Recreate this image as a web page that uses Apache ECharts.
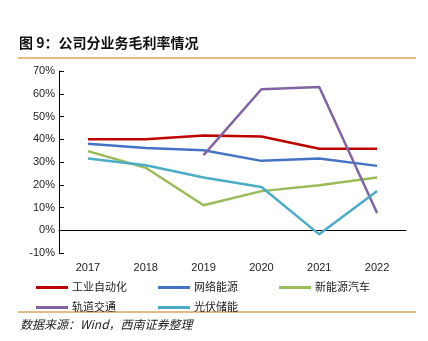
<!DOCTYPE html>
<html><head><meta charset="utf-8">
<script src="https://cdn.jsdelivr.net/npm/echarts@6/dist/echarts.min.js"></script>
<style>html,body{margin:0;padding:0;background:#fff}#c{width:428px;height:341px}</style>
</head><body><div id="c"></div>
<script>
const categories = ['2017','2018','2019','2020','2021','2022'];
const seriesNames = ['工业自动化','网络能源','新能源汽车','轨道交通','光伏储能'];
const industrialAutomation = [40, 40, 41.7, 41.2, 35.8, 35.8];
const networkEnergy = [38, 36.2, 35.2, 30.5, 31.5, 28.3];
const newEnergyVehicle = [34.8, 27.5, 11, 17.2, 19.8, 23.2];
const railTransit = [null, null, 33, 62, 63, 7.6];
const pvStorage = [31.5, 28.6, 23.2, 19, -1.8, 17.3];
const yTicks = {min: -10, max: 70, interval: 10};
const colors = ['#C00000','#4472C4','#9BBB59','#8064A2','#4BACC6'];
const values = [industrialAutomation, networkEnergy, newEnergyVehicle, railTransit, pvStorage];

const chart = echarts.init(document.getElementById('c'));
const font = 'Liberation Sans, Arial, "Noto Sans CJK SC", sans-serif';
const legendCommon = {
  orient: 'vertical', icon: 'rect', itemWidth: 32, itemHeight: 3, itemGap: 9,
  textStyle: {fontSize: 11, color: '#222', fontFamily: font, padding: [0,0,0,-1]},
  padding: 0, selectedMode: false
};
chart.setOption({
  animation: false,
  color: colors,
  title: {
    text: '图 9：公司分业务毛利率情况', left: 19, top: 36, padding: 0,
    textStyle: {fontSize: 14, fontWeight: 'bold', color: '#111', fontFamily: '"Noto Sans CJK SC", sans-serif'}
  },
  legend: [
    Object.assign({}, legendCommon, {left: 36, top: 282, data: [seriesNames[0], seriesNames[3]]}),
    Object.assign({}, legendCommon, {left: 158, top: 282, data: [seriesNames[1], seriesNames[4]]}),
    Object.assign({}, legendCommon, {left: 279, top: 282, data: [seriesNames[2]]})
  ],
  grid: {left: 59, right: 22, top: 71, bottom: 88},
  xAxis: [
    {type: 'category', data: categories, boundaryGap: true,
     axisLine: {onZero: true, lineStyle: {color: '#000', width: 1}},
     axisTick: {inside: true, length: 5, lineStyle: {color: '#000'}},
     axisLabel: {show: false}},
    {type: 'category', data: categories, boundaryGap: true, position: 'bottom',
     axisLine: {show: false, onZero: false}, axisTick: {show: false},
     axisLabel: {fontSize: 11, color: '#222', fontFamily: font, margin: 9}}
  ],
  yAxis: {
    type: 'value', min: yTicks.min, max: yTicks.max, interval: yTicks.interval,
    axisLine: {show: true, lineStyle: {color: '#000'}},
    axisTick: {show: true, inside: true, length: 5, lineStyle: {color: '#000'}},
    splitLine: {show: false},
    axisLabel: {formatter: '{value}%', fontSize: 11, color: '#222', fontFamily: font, margin: 4}
  },
  series: seriesNames.map((n, i) => ({
    name: n, type: 'line', data: values[i], showSymbol: false, symbol: 'none',
    lineStyle: {width: 2.5, color: colors[i]}, itemStyle: {color: colors[i]},
    connectNulls: false
  })),
  graphic: [
    {type: 'line', shape: {x1: 18, y1: 58, x2: 416, y2: 58}, style: {stroke: '#E3A65A', lineWidth: 1.5}},
    {type: 'line', shape: {x1: 18, y1: 312, x2: 416, y2: 312}, style: {stroke: '#D9A066', lineWidth: 1.5}},
    {type: 'text', left: 20, top: 318, style: {text: '数据来源：Wind，西南证券整理', fontSize: 12, fontStyle: 'italic', fill: '#222', fontFamily: '"Noto Sans CJK SC", sans-serif'}}
  ]
});
</script></body></html>
